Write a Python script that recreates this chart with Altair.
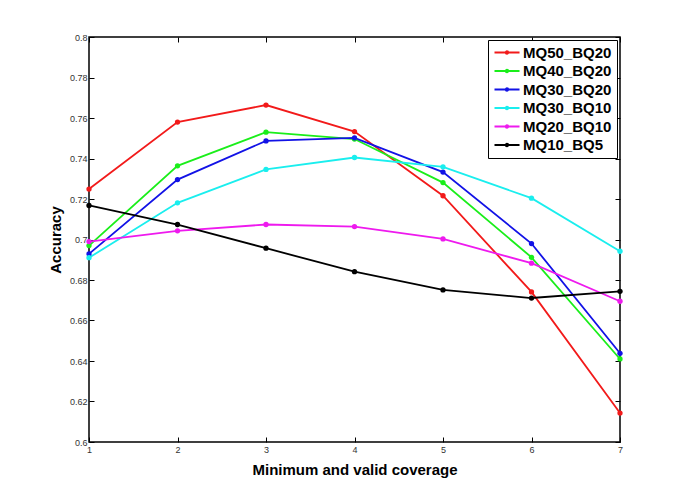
import altair as alt
import pandas as pd

coverage = [1, 2, 3, 4, 5, 6, 7]
series_names = ["MQ50_BQ20", "MQ40_BQ20", "MQ30_BQ20", "MQ30_BQ10", "MQ20_BQ10", "MQ10_BQ5"]
mq50_bq20 = [0.7249, 0.7580, 0.7664, 0.7533, 0.7216, 0.6741, 0.6143]
mq40_bq20 = [0.6970, 0.7364, 0.7530, 0.7496, 0.7281, 0.6912, 0.6410]
mq30_bq20 = [0.6929, 0.7296, 0.7487, 0.7502, 0.7333, 0.6980, 0.6438]
mq30_bq10 = [0.6910, 0.7181, 0.7346, 0.7405, 0.7359, 0.7204, 0.6942]
mq20_bq10 = [0.6990, 0.7043, 0.7074, 0.7064, 0.7003, 0.6883, 0.6695]
mq10_bq5 = [0.7168, 0.7074, 0.6957, 0.6841, 0.6751, 0.6711, 0.6744]
colors = ["#f21a1a", "#1aee1a", "#1212e6", "#1aeeee", "#ee1aee", "#000000"]
y_ticks = [0.6, 0.62, 0.64, 0.66, 0.68, 0.7, 0.72, 0.74, 0.76, 0.78, 0.8]

all_series = [mq50_bq20, mq40_bq20, mq30_bq20, mq30_bq10, mq20_bq10, mq10_bq5]
rows = []
for name, vals in zip(series_names, all_series):
    for c, v in zip(coverage, vals):
        rows.append({"series": name, "coverage": c, "accuracy": v})
df = pd.DataFrame(rows)

xscale = alt.Scale(domain=[1, 7], nice=False, zero=False)
yscale = alt.Scale(domain=[0.6, 0.8], nice=False, zero=False)

legend_path = "M-1,0H3.17M1.28,0A0.2,0.2 0 1 1 0.88,0A0.2,0.2 0 1 1 1.28,0"

main = alt.Chart(df).mark_line(
    strokeWidth=1.8,
    point=alt.OverlayMarkDef(filled=True, size=28, opacity=1),
).encode(
    x=alt.X("coverage:Q", scale=xscale,
            axis=alt.Axis(values=coverage, title="Minimum and valid coverage",
                          orient="bottom", offset=-5, tickSize=5, domain=False,
                          grid=False, labelPadding=3, titlePadding=8,
                          labelFlush=False)),
    y=alt.Y("accuracy:Q", scale=yscale,
            axis=alt.Axis(values=y_ticks, title="Accuracy", format="~g",
                          orient="left", offset=-5, tickSize=5, domain=False,
                          grid=False, labelPadding=2, titlePadding=6,
                          labelFlush=False)),
    color=alt.Color("series:N",
                    scale=alt.Scale(domain=series_names, range=colors),
                    sort=series_names,
                    legend=alt.Legend(title=None, orient="top-right", offset=3,
                                      symbolType=legend_path, symbolSize=144,
                                      symbolStrokeWidth=2, symbolOpacity=1,
                                      labelFontSize=15, labelFontWeight="bold",
                                      labelFont="Liberation Sans", labelColor="#000",
                                      labelOffset=15, rowPadding=2.5, padding=5,
                                      strokeColor="#000", fillColor="#fff")),
)

mirror = alt.Chart(df).mark_line(strokeOpacity=0).encode(
    x=alt.X("coverage:Q", scale=xscale,
            axis=alt.Axis(values=coverage, title=None, orient="top", offset=-5,
                          tickSize=5, domain=False, labels=False, grid=False)),
    y=alt.Y("accuracy:Q", scale=yscale,
            axis=alt.Axis(values=y_ticks, title=None, orient="right", offset=-5,
                          tickSize=5, domain=False, labels=False, grid=False)),
    detail="series:N",
)

chart = alt.layer(main, mirror).resolve_axis(x="independent", y="independent").properties(
    width=531, height=405,
    autosize=alt.AutoSizeParams(type="none"),
    padding={"left": 81, "top": 29, "right": 50, "bottom": 40},
).configure_view(
    stroke="#000", strokeWidth=1.5
).configure_axis(
    labelFont="Liberation Sans", labelFontSize=9, labelColor="#333",
    tickColor="#000", tickWidth=1,
    titleFont="Liberation Sans", titleFontSize=15, titleFontWeight="bold",
    titleColor="#000"
)

chart.save("out.html", embed_options={"renderer": "svg", "actions": False})
